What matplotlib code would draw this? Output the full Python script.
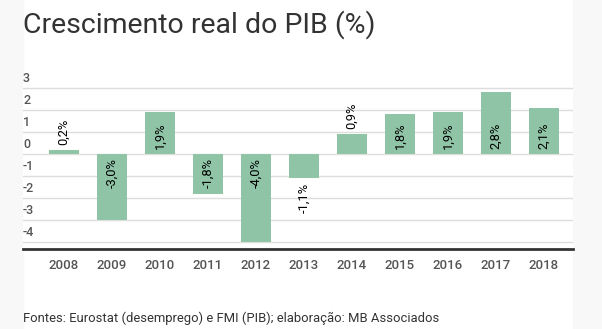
import matplotlib.pyplot as plt
from matplotlib.patches import Rectangle
from matplotlib.transforms import blended_transform_factory

years = ["2008", "2009", "2010", "2011", "2012", "2013", "2014", "2015", "2016", "2017", "2018"]
growth = [0.2, -3.0, 1.9, -1.8, -4.0, -1.1, 0.9, 1.8, 1.9, 2.8, 2.1]
y_ticks = [3, 2, 1, 0, -1, -2, -3, -4]

BAR = "#8fc4a6"
TXT = "#333333"
TICK = "#555555"

plt.rcParams["font.family"] = ["Roboto", "DejaVu Sans"]

fig = plt.figure(figsize=(6.02, 3.29), dpi=100)
fig.patch.set_facecolor("white")

# grey side margins
fig.add_artist(Rectangle((0, 0), 23 / 602, 1, transform=fig.transFigure,
                         color="#f8f8f8", zorder=0))
fig.add_artist(Rectangle((573 / 602, 0), 29 / 602, 1, transform=fig.transFigure,
                         color="#f8f8f8", zorder=0))

ax = fig.add_axes([23 / 602, 1 - 249 / 329, 550 / 602, (249 - 83.6) / 329])
x = list(range(len(years)))
ax.bar(x, growth, width=0.625, color=BAR, zorder=2)
ax.set_xlim(-0.854, 10.604)
ax.set_ylim(-4.32, 3.2)

for t in y_ticks:
    ax.axhline(t, color="#dddddd", lw=1, zorder=1)

for s in ["top", "right", "left"]:
    ax.spines[s].set_visible(False)
ax.spines["bottom"].set_color("#333333")
ax.spines["bottom"].set_linewidth(2)
ax.set_yticks([])
ax.set_xticks(x)
ax.set_xticklabels(years, color=TICK, fontsize=9.5, fontweight="medium")
ax.tick_params(axis="x", length=0, pad=7)

# y labels sit above the gridlines
tr = blended_transform_factory(ax.transAxes, ax.transData)
for t in y_ticks:
    ax.text(0, t + 0.12, str(t), transform=tr, ha="left", va="bottom",
            color=TICK, fontsize=9, fontweight="medium")

# value labels, rotated, inside the bar when it is long enough
for xi, v in zip(x, growth):
    lab = f"{v:.1f}%".replace(".", ",")
    if abs(v) >= 1.5:
        if v > 0:
            ax.text(xi, 0.22, lab, rotation=90, ha="center", va="bottom",
                    fontsize=9.3, color="black", zorder=3)
        else:
            ax.text(xi, -0.18, lab, rotation=90, ha="center", va="top",
                    fontsize=9.3, color="black", zorder=3)
    else:
        if v > 0:
            ax.text(xi, v + 0.22, lab, rotation=90, ha="center", va="bottom",
                    fontsize=9.3, color="black", zorder=3)
        else:
            ax.text(xi, v - 0.22, lab, rotation=90, ha="center", va="top",
                    fontsize=9.3, color="black", zorder=3)

fig.text(23 / 602, 1 - 25 / 329, "Crescimento real do PIB (%)", ha="left",
         va="center", fontsize=20.5, color=TXT)
fig.text(23 / 602, 1 - 318 / 329, "Fontes: Eurostat (desemprego) e FMI (PIB); elaboração: MB Associados",
         ha="left", va="center", fontsize=9.4, color=TXT)

fig.savefig("out.png", dpi=100)
